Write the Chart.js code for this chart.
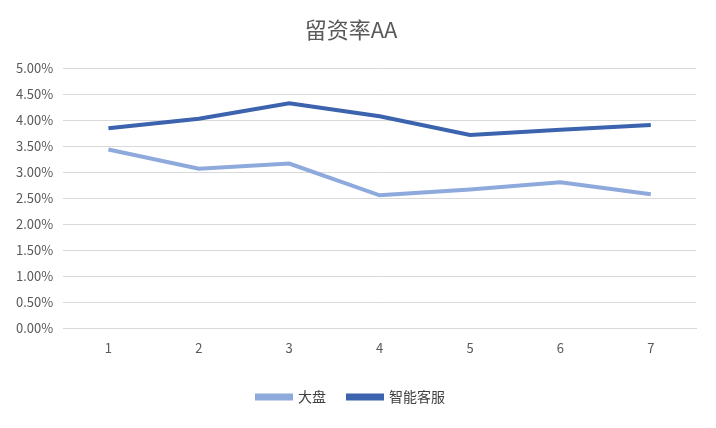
<!DOCTYPE html>
<html><head><meta charset="utf-8">
<script src="https://cdn.jsdelivr.net/npm/chart.js@4"></script>
<style>html,body{margin:0;padding:0;background:#fff}#w{width:716px;height:428px}</style>
</head><body><div id="w"><canvas id="c"></canvas></div>
<script>
const categories = ['1','2','3','4','5','6','7'];
const dapan = [3.44, 3.07, 3.17, 2.56, 2.67, 2.81, 2.58];
const zhineng = [3.85, 4.03, 4.33, 4.08, 3.72, 3.82, 3.91];
const seriesNames = ['大盘', '智能客服'];
const font = "'Noto Sans CJK SC','Noto Sans',sans-serif";
new Chart(document.getElementById('c'), {
  type: 'line',
  data: { labels: categories, datasets: [
    { label: seriesNames[0], data: dapan, borderColor: '#8EA9DB', backgroundColor: '#8EA9DB', borderWidth: 4, pointRadius: 0, tension: 0 },
    { label: seriesNames[1], data: zhineng, borderColor: '#3B63AE', backgroundColor: '#3B63AE', borderWidth: 4, pointRadius: 0, tension: 0 }
  ]},
  options: {
    responsive: true, maintainAspectRatio: false, animation: false,
    layout: { padding: { left: 6, right: 20, top: 12, bottom: 14 } },
    plugins: {
      title: { display: true, text: '留资率AA', color: '#595959', font: { family: font, size: 22, weight: 'normal' }, padding: { top: 4, bottom: 26 } },
      legend: { position: 'bottom', labels: { color: '#404040', font: { family: font, size: 14 }, boxWidth: 34, boxHeight: 3, padding: 22 } },
      tooltip: { enabled: false }
    },
    scales: {
      x: { offset: true, grid: { display: false, drawTicks: false }, border: { color: '#D9D9D9' }, ticks: { color: '#595959', font: { family: font, size: 13 }, padding: 12 } },
      y: { min: 0, max: 5, grid: { color: '#D9D9D9', drawTicks: false }, border: { display: false },
           ticks: { stepSize: 0.5, color: '#595959', font: { family: font, size: 13 }, padding: 10, callback: v => v.toFixed(2) + '%' } }
    }
  }
});
</script></body></html>
